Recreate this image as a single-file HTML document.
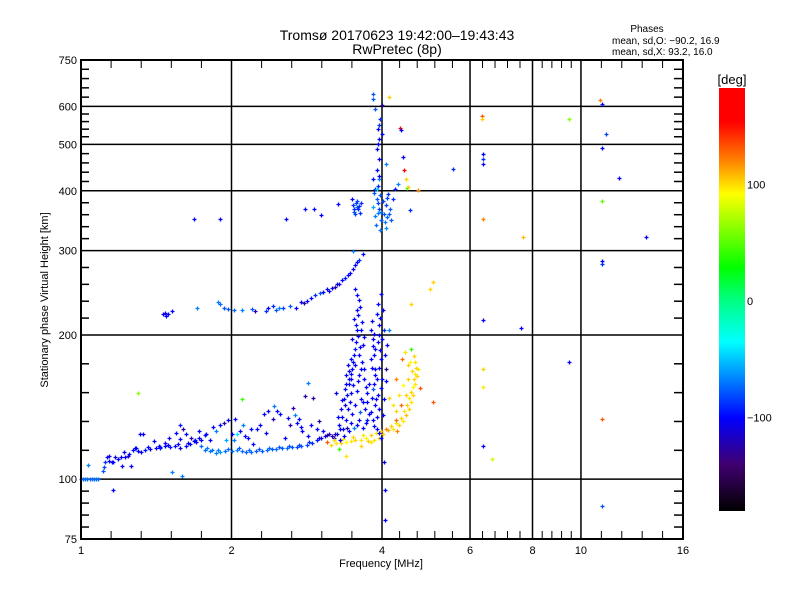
<!DOCTYPE html>
<html><head><meta charset="utf-8"><title>Ionogram</title>
<style>
html,body{margin:0;padding:0;background:#fff;}
svg text{font-family:"Liberation Sans",sans-serif;fill:#000;}
</style></head>
<body>
<svg id="chart" xmlns="http://www.w3.org/2000/svg" width="800" height="600" viewBox="0 0 800 600">
<defs>
<linearGradient id="cmap" x1="0" y1="1" x2="0" y2="0">
<stop offset="0" stop-color="#000000"/>
<stop offset="0.11" stop-color="#400070"/>
<stop offset="0.22" stop-color="#0000ff"/>
<stop offset="0.31" stop-color="#0080ff"/>
<stop offset="0.40" stop-color="#00ffff"/>
<stop offset="0.50" stop-color="#00ff80"/>
<stop offset="0.575" stop-color="#00ff00"/>
<stop offset="0.75" stop-color="#ffff00"/>
<stop offset="0.83" stop-color="#ff8000"/>
<stop offset="0.92" stop-color="#ff0000"/>
<stop offset="1" stop-color="#ff0000"/>
</linearGradient>
</defs>
<text x="397" y="40" font-size="14" text-anchor="middle">Tromsø 20170623 19:42:00–19:43:43</text>
<text x="397" y="54" font-size="14" text-anchor="middle">RwPretec (8p)</text>
<text x="647" y="32" font-size="10" text-anchor="middle">Phases</text>
<text x="612" y="44" font-size="10">mean, sd,O: −90.2, 16.9</text>
<text x="612" y="55" font-size="10">mean, sd,X:  93.2, 16.0</text>
<g id="grid"></g>
<g id="points"></g>
<rect x="81" y="60" width="602" height="479" fill="none" stroke="#000" stroke-width="2"/>
<g id="ticks"></g>
<text x="381" y="567" font-size="11" text-anchor="middle">Frequency [MHz]</text>
<text x="48" y="300" font-size="11" text-anchor="middle" transform="rotate(-90 48 300)">Stationary phase Virtual Height [km]</text>
<rect x="719" y="88" width="26" height="423" fill="url(#cmap)"/>
<text x="732" y="84" font-size="13" text-anchor="middle">[deg]</text>
<g id="cbar"></g>
</svg>
<script>
// [frequency MHz, virtual height km, phase deg]
const eTrace = [
[1.0,100,-75],[1.01,100,-75],[1.02,100,-75],[1.03,100,-75],[1.04,100,-75],[1.05,100,-75],[1.06,100,-75],[1.07,100,-75],[1.08,100,-75],
[1.033,107,-70],[1.107,104,-80],[1.112,106,-85],[1.117,108.5,-90],[1.128,111,-95],
[1.154,108.5,-100],[1.17,111,-110],[1.2,111,-105],[1.225,111.5,-100],[1.24,112,-115],[1.27,115,-100],[1.3,114.5,-100],[1.34,115,-95],[1.375,115.4,-100],[1.41,116,-105],[1.44,116.5,-100],[1.47,117,-100],[1.51,116.5,-95],[1.545,117,-100],[1.58,116,-110],[1.62,117.5,-100],[1.655,118.6,-100],[1.69,121,-95],[1.72,122,-100],[1.77,123.5,-105],
[1.77,115,-75],[1.81,114.5,-70],[1.86,113.5,-70],[1.9,114,-65],[1.945,114.5,-75],[2.0,114.5,-75],[2.05,115,-70],[2.095,114.5,-75],[2.14,114,-80],[2.19,114,-75],[2.24,114.5,-80],[2.3,114.5,-80],[2.35,115,-75],[2.41,115.4,-80],[2.46,115.4,-75],[2.52,116,-80],[2.58,116,-75],[2.64,116.5,-80],[2.7,116.5,-85],[2.76,117,-80],[2.83,118,-85],[2.9,119,-90],[2.96,120.5,-95],[3.02,121.8,-110],[3.07,123,-115],[3.11,123.5,-120],[3.17,123,-125],[3.22,124,-120]
];
const eTraceExtra = [
[1.185,110,-100],[1.25,113,-100],[1.32,114,-105],[1.36,116.5,-100],[1.43,117.5,-100],[1.49,118,-100],[1.56,118.5,-100],[1.64,119,-105],[1.7,119.5,-100],[1.74,117,-75],[1.79,116,-70],[1.83,115,-75],[1.88,115,-70],[1.97,115.5,-75],[2.07,116,-80],[2.17,115,-75],[2.27,115.5,-80],[2.38,116,-75],[2.49,116.5,-80],[2.61,117.5,-80],[2.73,118,-85],[2.86,119.5,-90],[2.99,122,-105],[3.14,124.5,-125],[3.2,122,-120],[1.14,112,-110],[1.22,114,-100],[1.29,116,-100]
];
const xTrace = [
[3.1,119.5,130],[3.16,118,100],[3.23,119,95],[3.31,119,100],[3.39,119.5,90],[3.46,120,95],[3.54,120.5,100],[3.63,121,95],[3.71,122,90],[3.8,123.5,100],[3.89,125,95],[3.98,126,105],[4.07,127,120],[4.16,129,100],[4.26,131,95],[4.37,134,100],[4.43,138.5,95],[4.49,143,100],[4.53,147.5,95],[4.57,152,100],[4.61,156,90],[4.63,161.5,100],[4.66,166,95],[4.68,171,100],[4.66,176,95],[4.63,181,100],
[3.28,115.4,40],[3.39,112,95],[4.26,138.5,100],[4.37,143,125],[4.47,150,100],[4.33,150,95],[4.41,157.5,90],[4.51,161.5,100],[4.26,161.5,120],[4.39,177.8,125],[4.45,184,95],[4.51,173,100],[4.57,187,40],[4.14,147.5,100],[4.21,143,95],[4.26,133,125],[3.63,117,100],[3.8,119.5,95],[3.94,122,100],[4.47,136,105],[4.77,155,130],[5.06,145,130],[4.28,126,120],
[3.2,121,100],[3.35,121.5,95],[3.5,122.5,100],[3.66,123.5,95],[3.75,120,100],[3.86,121,95],[4.02,124,100],[4.12,126.5,110],[4.2,127.5,95],[4.32,129.5,100],[4.4,132,95],[4.52,140,100],[4.58,145,95],[4.62,150,100],[4.66,158,95],[4.7,164,100],[4.72,170,95],[4.6,168,100],[4.55,176,90]
];
const spreadE = [
[1.31,124.5,-100],[1.28,116,-100],[1.44,116,-95],[1.47,119,-100],[1.55,125,-100],[1.58,130,-95],[1.6,127,-130],[1.66,122,-125],[1.68,120,-100],[1.74,120.5,-100],[1.78,124,-100],[1.84,128.5,-100],[1.9,129.5,-100],[1.93,131,-125],[1.97,133,-100],[2.03,133.5,-100],[2.0,124,-100],[2.05,124,-40],[2.02,120.5,-70],[2.11,129.5,-70],[2.13,123,-100],[2.16,122,-100],[2.21,118.6,-100],[2.25,127,-100],[2.28,129.5,-100],[2.32,137,-100],[2.37,138.5,-100],[2.42,133.5,-125],[2.43,142,-70],[2.47,138.5,-100],[2.5,137,-100],[2.62,129.5,-125],[2.65,140.5,-125],[2.7,131,-100],[2.73,133.5,-100],[2.75,128.5,-100],[2.77,126,-100],[2.81,149,-125],[2.84,123,-100],[2.89,129.5,-100],[2.85,159,-70],[2.91,148,-125],
[1.52,103.5,-70],[1.59,101.5,-70],[1.16,94.7,-100],[1.3,151,60],[2.1,146.7,40],[1.136,109,-100],[1.16,108.5,-100],[1.21,106.5,-100],[1.26,106.5,-100],[1.33,124,-100],[1.58,121.5,-100],
[1.4,120,-100],[1.5,122,-110],[1.62,124,-100],[1.72,126,-100],[1.81,121,-100],[1.86,126,-70],[1.95,121,-60],[2.08,126,-100],[2.19,127,-100],[2.34,125,-100],[2.56,122,-100],[2.6,134,-100],[2.68,136,-70],[2.96,127,-100],[2.99,132,-125],[3.05,126,-100]
];
const spreadF = [
[3.3,121,-100],[3.35,127,-100],[3.39,133,-100],[3.42,140,-100],[3.36,147,-100],[3.46,151,-100],[3.44,158,-100],[3.39,165,-100],[3.49,169.5,-100],[3.46,178,-100],[3.54,187,-95],[3.49,196,-100],[3.57,205,-100],[3.51,216,-100],[3.56,226,-100],[3.6,237,-100],[3.53,249,-100],[3.63,205,-100],[3.66,191,-100],[3.6,182,-100],[3.63,169.5,-100],[3.68,161.5,-100],[3.57,152.5,-100],[3.63,147,-100],[3.7,140,-100],[3.73,133,-95],[3.66,128,-100],[3.6,133,-100],[3.51,128,-70],[3.44,126,-100],[3.28,130,-100],[3.25,124,-110],[3.31,140,-100],[3.23,151,-100],[3.38,154,-100],[3.46,161.5,-100],[3.53,173,-100],[3.59,165,-100],[3.42,173,-100],[3.73,151,-100],[3.76,158,-100],[3.54,143,-100],[3.49,136.6,-100],
[3.8,205,-100],[3.84,196,-100],[3.87,186.6,-100],[3.8,178,-100],[3.87,169.5,-100],[3.9,161.5,-100],[3.84,154,-80],[3.89,147,-100],[3.94,140,-100],[3.84,133,-100],[3.9,127,-100],[3.98,122,-100],[3.98,178,-100],[4.0,161.5,-100],[4.0,196,-100],[4.04,147,-100],[4.07,169.5,-125],[4.1,191,-100],[4.13,205,-70],[3.91,221,-100],[3.94,210,-100],[4.02,226,-100],[3.98,243,-100],[4.04,108.5,-100],[4.05,94.7,-100],[4.05,82,-100]
];
const spreadFExtra = [
[3.33,135,-100],[3.37,143,-110],[3.41,150,-100],[3.43,162,-100],[3.47,166,-100],[3.5,157,-100],[3.52,182,-100],[3.55,193,-100],[3.58,199,-100],[3.55,210,-100],[3.58,220,-100],[3.61,229,-100],[3.56,242,-100],[3.64,213,-100],[3.68,198,-100],[3.65,176,-100],[3.69,170,-100],[3.71,156,-100],[3.67,145,-100],[3.62,138,-80],[3.56,130,-100],[3.47,131,-100],[3.4,128,-120],[3.27,135,-100],[3.33,146,-100],[3.45,145,-100],[3.58,160,-100],[3.5,176,-100],[3.62,189,-100],[3.39,158,-100],[3.44,168,-110],[3.3,127,-100],[3.36,123,-100],[3.71,131,-100],[3.76,137,-100],[3.74,145,-100],
[3.82,214,-100],[3.86,201,-100],[3.83,190,-100],[3.85,182,-100],[3.82,171,-100],[3.88,165,-100],[3.86,158,-100],[3.82,148,-100],[3.92,150,-100],[3.87,143,-100],[3.91,135,-100],[3.8,138,-100],[3.86,129,-100],[3.94,125,-100],[3.95,171,-100],[3.97,186,-100],[3.92,193,-100],[3.95,200,-100],[3.97,217,-100],[3.93,232,-100],[3.99,155,-100],[4.02,136,-100],[4.06,182,-100],[4.03,205,-90],[4.08,160,-100]
];
const upperF = [
[3.5,374,-90],[3.56,370,-80],[3.6,372,-90],[3.53,357,-85],[3.63,377,-90],[3.49,384,-100],[3.52,362,-80],[3.58,366,-90],[3.55,378,-85],[3.26,376,-100],[4.55,365,-90],
[3.84,423,-100],[3.87,403,-90],[3.9,384,-80],[3.94,366,-85],[3.98,348,-80],[3.89,340,-75],[4.04,357,-80],[4.07,374,-85],[4.12,394,-90],[4.15,366,-80],[3.96,332,-70],[4.07,335,-65],[4.17,348,-80],[4.21,384,-90],[4.24,403,-95],[4.31,413,-70],[3.84,370,-60],[3.91,403,-45],[3.92,360,-70],[4.02,380,-85],[4.1,352,-75],
[3.9,443,-100],[3.94,465,-100],[3.91,488,-100],[3.94,512,-100],[3.92,537,-100],[3.96,564,-90],[3.87,592,-80],[3.84,636,-80],[3.84,621,-80],[4.0,605,-125],[4.0,525,-100],[4.07,454,-70],[3.94,423,-70],
[4.14,628,100],[4.35,540,150],[4.37,536,-100],[4.47,423,100],[4.49,406,40],[4.51,408,100],[4.43,443,150],[4.72,402,120],[4.41,470,-100],
[3.51,367,-90],[3.57,381,-85],[3.61,360,-90],[3.86,395,-80],[3.93,378,-85],[3.99,362,-75],[4.05,344,-70],[4.09,386,-85],[3.88,354,-70],[3.97,392,-80],[4.13,358,-80],[3.92,410,-90],[3.95,430,-100],[3.93,500,-100],[3.95,550,-90]
];
const lowerF = [
[1.46,221,-100],[1.47,222,-110],[1.49,221,-100],[1.52,224,-100],[1.71,228,-70],[1.88,234,-70],[1.9,232,-75],[1.93,228,-80],[1.97,227,-80],[2.02,225,-75],[2.1,226,-70],[2.2,227,-80],[2.23,224,-125],[2.34,224,-90],[2.37,228,-100],[2.42,230,-90],[2.49,228,-70],[2.54,228,-85],[2.62,230,-80],[2.69,228,-100],[2.75,234,-100],[2.79,233,-125],[2.88,239,-100],[2.94,242,-90],[3.0,245,-80],[3.05,246,-100],[3.1,249,-100],[3.17,251,-110],[3.22,252,-125],[3.28,256,-100],[3.32,260,-100],[3.37,263,-95],[3.42,267,-100],[3.5,274,-110],[3.54,280,-100],[3.59,287,-90],[3.5,300,-70],[3.66,295,-100],
[1.68,349,-100],[1.9,349,-100],[2.57,350,-100],[2.8,366,-100],[2.93,366,-100],[3.02,356,-100],
[1.48,219,-100],[2.45,226,-80],[2.83,236,-100],[3.13,247,-110],[3.25,255,-110],[3.45,270,-100],[3.57,284,-100]
];
const sparse = [
[5.0,249,100],[5.05,258,100],[4.57,232,100],[5.55,445,-90],[6.35,574,130],[6.35,565,100],[6.37,478,-100],[6.37,466,-90],[6.37,455,-100],[6.37,350,120],[6.37,215,-100],[6.37,170,100],[6.37,156,95],[6.37,117,-100],[6.65,110,75],[7.67,321,105],[7.6,207,-100],[9.46,564,60],[9.46,176,-100],[10.9,618,120],[11.0,606,-100],[11.0,492,-100],[11.2,525,-85],[11.0,381,50],[11.0,285,-100],[11.0,281,-90],[11.0,133.5,130],[11.0,88,-80],[11.9,425,-100],[13.5,320,-100]
];
const xMajorTicks = [1,2,4,6,8,10,16];
const xTickLabels = ["1","2","4","6","8","10","16"];
const yMajorTicks = [75,100,200,300,400,500,600,750];
const yTickLabels = ["75","100","200","300","400","500","600","750"];
const xGridValues = [2,4,6,8,10];
const yGridValues = [100,200,300,400,500,600];
const cbarTicks = [100,0,-100];
const cbarLabels = ["100","0","−100"];

const NS = "http://www.w3.org/2000/svg";
const L=81,R=683,T=60,B=539;
function xs(f){return L+(R-L)*Math.log2(f)/4;}
function ys(h){return B-(B-T)*Math.log10(h/75);}
function cbY(v){return 301-v*(210/180);}
const stops=[[-180,[0,0,0]],[-140,[64,0,112]],[-100,[0,0,255]],[-70,[0,128,255]],[-36,[0,255,255]],[0,[0,255,128]],[27,[0,255,0]],[89,[255,255,0]],[120,[255,128,0]],[150,[255,0,0]],[180,[255,0,0]]];
function cmap(v){
  for(let i=1;i<stops.length;i++){
    if(v<=stops[i][0]){const a=stops[i-1],b=stops[i];const t=(v-a[0])/(b[0]-a[0]);
      const c=a[1].map((x,k)=>Math.round(x+(b[1][k]-x)*t));return `rgb(${c[0]},${c[1]},${c[2]})`;}
  }
  return "rgb(255,0,0)";
}
function mk(tag,attrs,parent){const e=document.createElementNS(NS,tag);for(const k in attrs)e.setAttribute(k,attrs[k]);parent.appendChild(e);return e;}
const grid=document.getElementById('grid'),ticks=document.getElementById('ticks'),pts=document.getElementById('points'),cbar=document.getElementById('cbar');
xGridValues.forEach(v=>{const l=mk('line',{x1:xs(v),x2:xs(v),y1:T,y2:B,stroke:'#000','stroke-width':1.5},grid);

});
yGridValues.forEach(v=>{const l=mk('line',{x1:L,x2:R,y1:ys(v),y2:ys(v),stroke:'#000','stroke-width':1.5},grid);

});
for(let i=0;i<xMajorTicks.length-1;i++){const a=Math.log(xMajorTicks[i]),b=Math.log(xMajorTicks[i+1]);
  for(let j=1;j<5;j++){const x=xs(Math.exp(a+(b-a)*j/5));
    const t1=mk('line',{x1:x,x2:x,y1:B,y2:B-8,stroke:'#000','stroke-width':1},ticks);
    
    
    const t2=mk('line',{x1:x,x2:x,y1:T,y2:T+8,stroke:'#000','stroke-width':1},ticks);
    
    }}
for(let i=0;i<yMajorTicks.length-1;i++){const a=Math.log(yMajorTicks[i]),b=Math.log(yMajorTicks[i+1]);
  for(let j=1;j<5;j++){const y=ys(Math.exp(a+(b-a)*j/5));
    const t1=mk('line',{x1:L,x2:L+8,y1:y,y2:y,stroke:'#000','stroke-width':1.5},ticks);
    
    
    const t2=mk('line',{x1:R,x2:R-9,y1:y,y2:y,stroke:'#000','stroke-width':1.5},ticks);
    
    }}
xMajorTicks.forEach((v,i)=>{const t=mk('text',{x:xs(v),y:554,'font-size':11,'text-anchor':'middle'},ticks);t.textContent=xTickLabels[i];

});
yMajorTicks.forEach((v,i)=>{const t=mk('text',{x:77,y:ys(v)+4,'font-size':11,'text-anchor':'end'},ticks);t.textContent=yTickLabels[i];

});
cbarTicks.forEach((v,i)=>{const t=mk('text',{x:747,y:cbY(v)+4,'font-size':11},cbar);t.textContent=cbarLabels[i];

});
[eTrace,eTraceExtra,xTrace,spreadE,spreadF,spreadFExtra,upperF,lowerF,sparse].forEach(series=>{
  series.forEach(p=>{const x=Math.round(xs(p[0]))+0.5,y=Math.round(ys(p[1]))+0.5;
    const m=mk('path',{d:`M${x-2} ${y}H${x+2}M${x} ${y-2}V${y+2}`,stroke:cmap(p[2]),'stroke-width':1.3,fill:'none'},pts);
    
    });
});
</script>
</body></html>
